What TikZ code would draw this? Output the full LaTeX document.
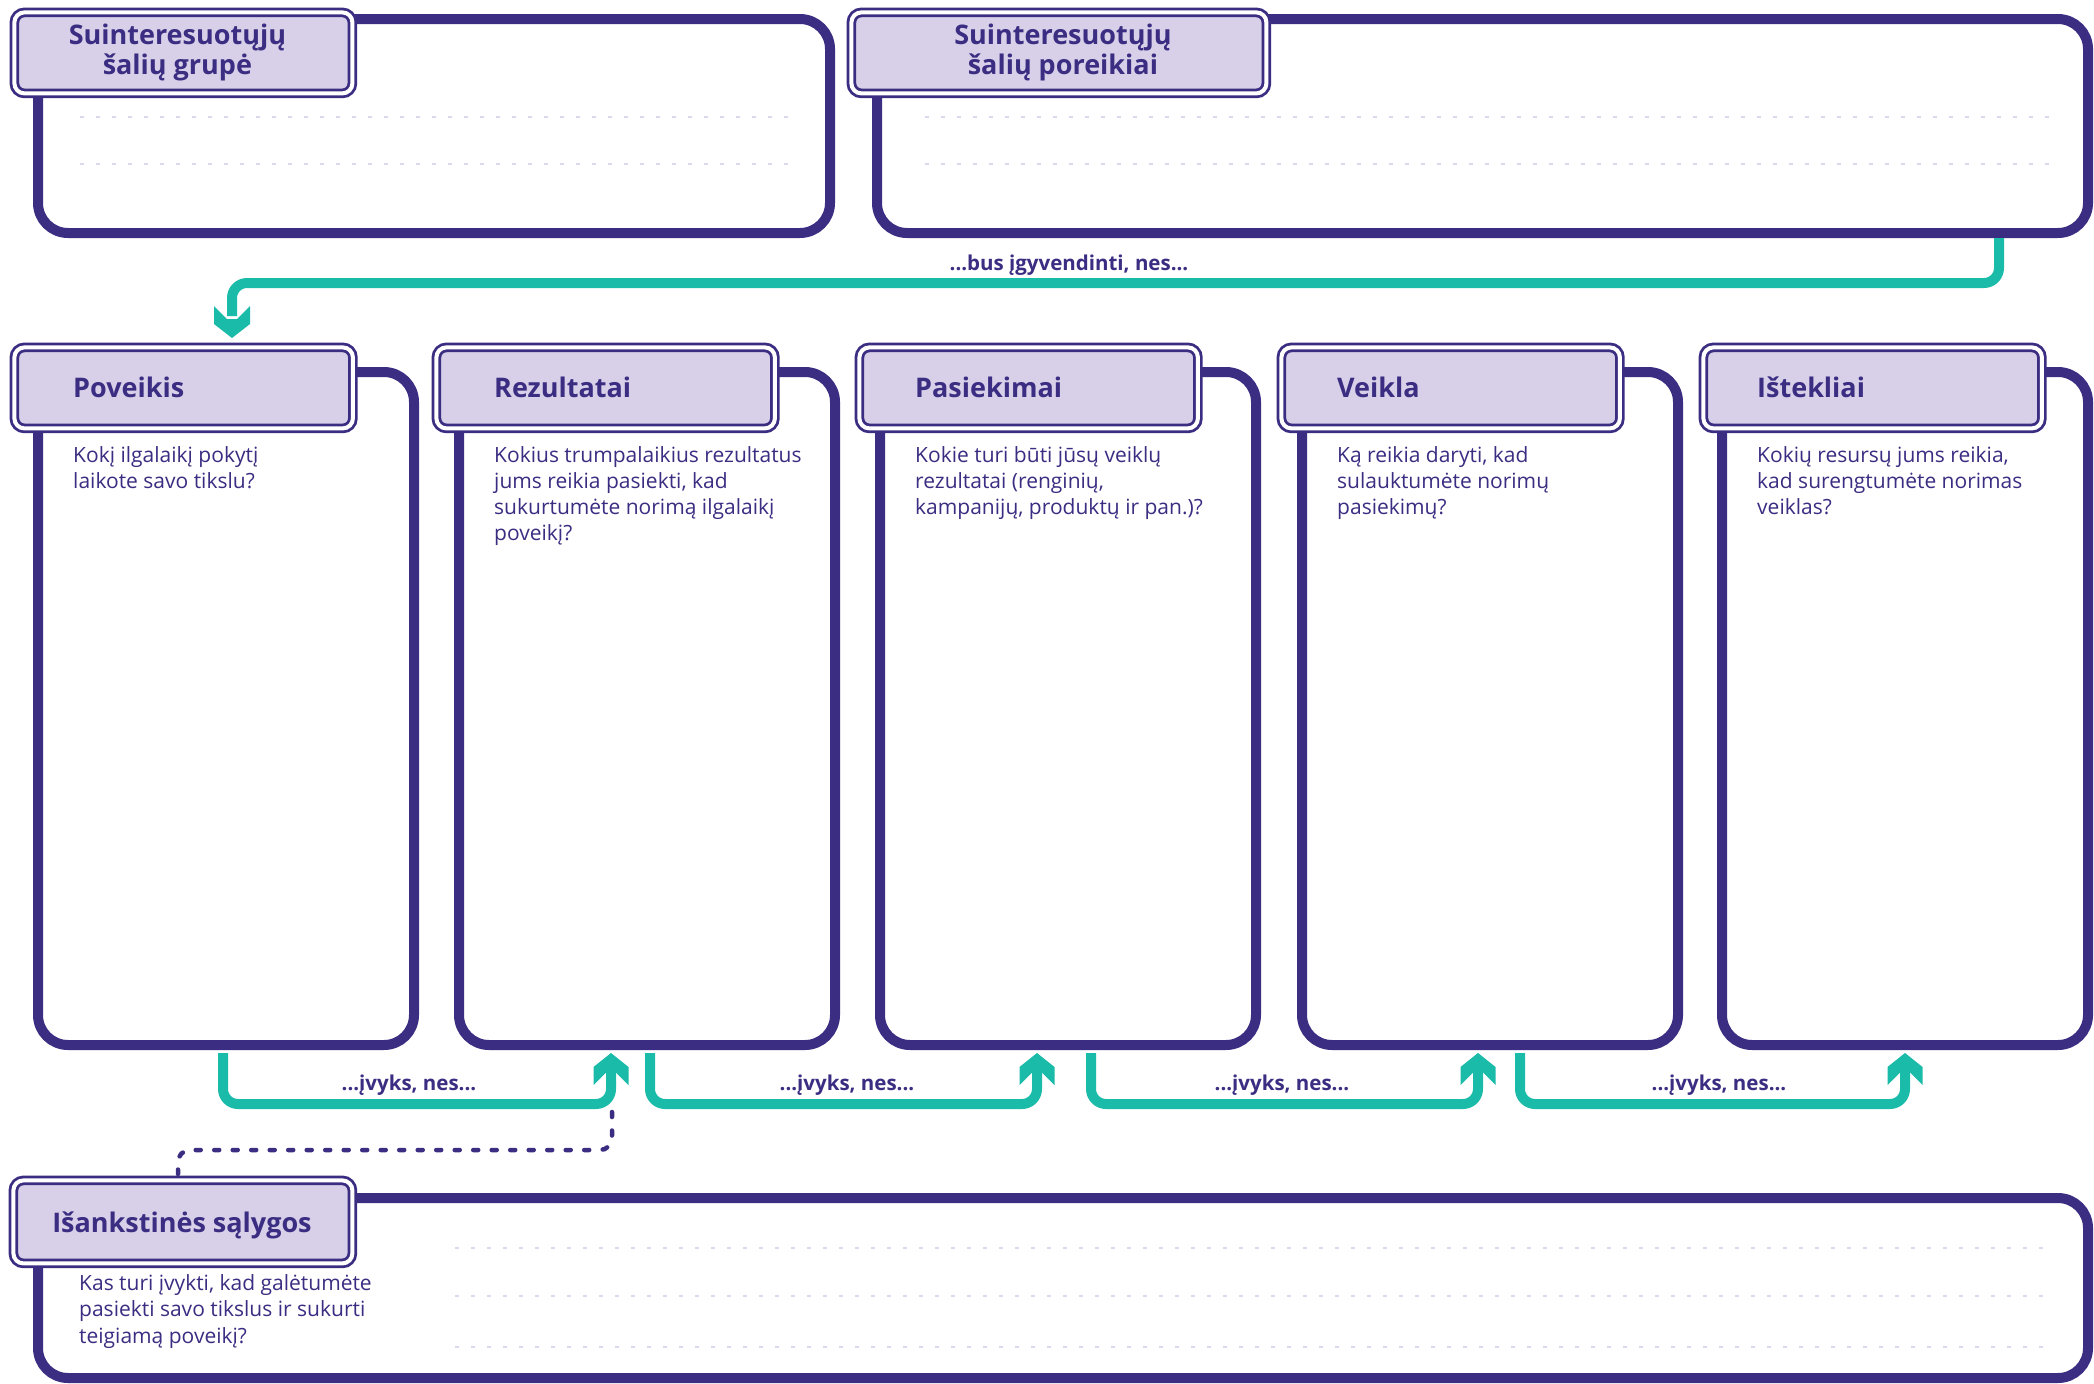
\documentclass[tikz,border=0pt]{standalone}
\usepackage{fontspec}
\setmainfont{Open Sans}
\usetikzlibrary{calc}
\definecolor{pur}{HTML}{3B2D82}
\definecolor{lav}{HTML}{D8D0E8}
\definecolor{tea}{HTML}{1BBBAA}
\definecolor{dotc}{HTML}{DCD9EF}
\newcommand\uphead[1]{\fill[tea] (#1) -- ++(17.5,14) -- ++(0,18) -- ++(-12.5,-12.5) -- ++(-10,0) -- ++(-12.5,12.5) -- ++(0,-18) -- cycle;}
\newcommand\dnhead[1]{\fill[tea] (#1) -- ++(18,-14) -- ++(0,-18) -- ++(-13,13) -- ++(-10,0) -- ++(-13,-13) -- ++(0,18) -- cycle;}
\begin{document}
\begin{tikzpicture}[x=1pt,y=-1pt,
  bigbox/.style={draw=pur, line width=10pt, rounded corners=30pt, anchor=north west, inner sep=0pt, outer sep=0pt},
  labbox/.style={draw=pur, double=white, double distance=4pt, line width=2.8pt, fill=lav, rounded corners=10pt, anchor=north west, inner sep=0pt, minimum height=81pt},
  ttl/.style={font=\fontsize{27}{30}\selectfont\bfseries, text=pur, inner sep=0pt},
  body/.style={font=\fontsize{21}{26}\selectfont, text=pur, inner sep=0pt, align=left, anchor=base west},
  flowlbl/.style={font=\fontsize{20.5}{24}\selectfont\bfseries, text=pur, inner sep=0pt, anchor=base},
  flow/.style={draw=tea, line width=10pt, rounded corners=15pt},
  dotline/.style={draw=dotc, line width=2pt, dash pattern=on 4pt off 12pt},
  prelink/.style={draw=pur, line width=4.5pt, dash pattern=on 5pt off 13.5pt, line cap=round, rounded corners=12pt}
]
\fill[white] (0,0) rectangle (2094,1384);
\useasboundingbox (0,0) rectangle (2094,1384);

% big boxes
\node[bigbox, minimum width=792pt, minimum height=214pt] (G) at (38,19) {};
\node[bigbox, minimum width=1211pt, minimum height=214pt] (N) at (877,19) {};
\node[bigbox, minimum width=376pt, minimum height=673pt] (B1) at (38,372) {};
\node[bigbox, minimum width=376pt, minimum height=673pt] (B2) at (459,372) {};
\node[bigbox, minimum width=376pt, minimum height=673pt] (B3) at (880,372) {};
\node[bigbox, minimum width=376pt, minimum height=673pt] (B4) at (1302,372) {};
\node[bigbox, minimum width=366pt, minimum height=673pt] (B5) at (1722,372) {};
\node[bigbox, minimum width=2050pt, minimum height=180pt] (P) at (38,1198) {};

% dotted writing lines
\draw[dotline] (80,117) -- (790,117);
\draw[dotline] (80,164) -- (790,164);
\draw[dotline] (925,117) -- (2050,117);
\draw[dotline] (925,164) -- (2050,164);
\draw[dotline] (455,1248) -- (2043,1248);
\draw[dotline] (455,1296) -- (2043,1296);
\draw[dotline] (455,1347) -- (2043,1347);

% labels
\node[labbox, minimum width=338pt] (LG) at (13,11) {};
\node[labbox, minimum width=415pt] (LN) at (850,11) {};
\node[labbox, minimum width=338.5pt] (L1) at (13,346) {};
\node[labbox, minimum width=338.5pt] (L2) at (435,346) {};
\node[labbox, minimum width=338.5pt] (L3) at (858,346) {};
\node[labbox, minimum width=338.5pt] (L4) at (1280,346) {};
\node[labbox, minimum width=338.5pt] (L5) at (1702,346) {};
\node[labbox, minimum width=339pt, minimum height=83pt] (LP) at (12,1179) {};

% titles
\node[ttl, align=center] (TG) at ($(LG.center)+(-6,0)$) {Suinteresuotųjų\\šalių grupė};
\node[ttl, align=center] (TN) at ($(LN.center)+(4,0)$) {Suinteresuotųjų\\šalių poreikiai};
\node[ttl, anchor=base west] (T1) at (73,397) {Poveikis};
\node[ttl, anchor=base west] (T2) at (494,397) {Rezultatai};
\node[ttl, anchor=base west] (T3) at (915,397) {Pasiekimai};
\node[ttl, anchor=base west] (T4) at (1337,397) {Veikla};
\node[ttl, anchor=base west] (T5) at (1757,397) {Ištekliai};
\node[ttl, anchor=base] (TP) at (182,1232) {Išankstinės sąlygos};

% body texts (base anchor = baseline of last line)
\node[body] (Q1) at (73,488) {Kokį ilgalaikį pokytį\\laikote savo tikslu?};
\node[body] (Q2) at (494,540) {Kokius trumpalaikius rezultatus\\jums reikia pasiekti, kad\\sukurtumėte norimą ilgalaikį\\poveikį?};
\node[body] (Q3) at (915,514) {Kokie turi būti jūsų veiklų\\rezultatai (renginių,\\kampanijų, produktų ir pan.)?};
\node[body] (Q4) at (1337,514) {Ką reikia daryti, kad\\sulauktumėte norimų\\pasiekimų?};
\node[body] (Q5) at (1757,514) {Kokių resursų jums reikia,\\kad surengtumėte norimas\\veiklas?};
\node[body, font=\fontsize{21}{26.7}\selectfont] (QP) at (79,1343.4) {Kas turi įvykti, kad galėtumėte\\pasiekti savo tikslus ir sukurti\\teigiamą poveikį?};

% top connector
\coordinate (a0s) at (1999,238);
\coordinate (a0t) at (232,338);
\draw[flow] (a0s) -- (1999,283) -- (232,283) -- ($(a0t)+(0,-22)$);
\dnhead{a0t}
\node[flowlbl] (F0) at (1069,270) {...bus įgyvendinti, nes...};

% bottom connectors
\coordinate (s1) at (223,1053);  \coordinate (t1) at (611,1053);
\coordinate (s2) at (650,1053);  \coordinate (t2) at (1037,1053);
\coordinate (s3) at (1091,1053); \coordinate (t3) at (1478,1053);
\coordinate (s4) at (1520,1053); \coordinate (t4) at (1905,1053);
\foreach \i in {1,2,3,4}{
  \draw[flow] (s\i) -- ($(s\i)+(0,51)$) -- ($(t\i)+(0,51)$) -- ($(t\i)+(0,17)$);
  \uphead{t\i}
}
\node[flowlbl] (F1) at (409,1090) {...įvyks, nes...};
\node[flowlbl] (F2) at (847,1090) {...įvyks, nes...};
\node[flowlbl] (F3) at (1282,1090) {...įvyks, nes...};
\node[flowlbl] (F4) at (1719,1090) {...įvyks, nes...};

% dotted link from preconditions
\coordinate (d1) at (612,1112);
\coordinate (d0) at (178,1174);
\draw[prelink] (d1) -- (612,1150) -- (178,1150) -- (d0);
\end{tikzpicture}
\end{document}
